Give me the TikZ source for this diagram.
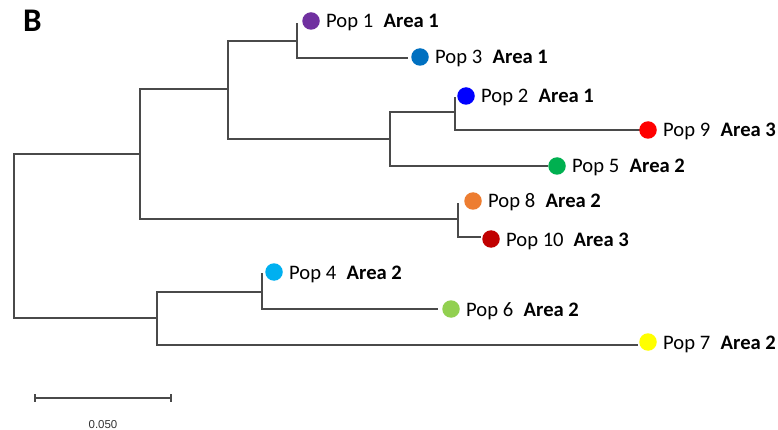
\documentclass[tikz,border=0pt]{standalone}
\usepackage{fontspec}
\setmainfont{Carlito}
\newfontfamily\arialf{Liberation Sans}
\definecolor{br}{HTML}{4A4A4A}
\definecolor{c1}{HTML}{7030A0}
\definecolor{c2}{HTML}{0000FF}
\definecolor{c3}{HTML}{0070C0}
\definecolor{c4}{HTML}{00B0F0}
\definecolor{c5}{HTML}{00B050}
\definecolor{c6}{HTML}{92D050}
\definecolor{c7}{HTML}{FFFF00}
\definecolor{c8}{HTML}{ED7D31}
\definecolor{c9}{HTML}{FF0000}
\definecolor{c10}{HTML}{C00000}
\begin{document}
\begin{tikzpicture}[x=1pt,y=-1pt,
  branch/.style={draw=br,line width=1.2pt},
  dot/.style={circle,inner sep=0pt,minimum size=17.5pt},
  lab/.style={anchor=base west,inner sep=0pt,font=\fontsize{20.6}{22}\selectfont,xshift=15pt,yshift=-7pt}]
\useasboundingbox (0,0) rectangle (778,430);
\node[anchor=base west,inner sep=0pt,font=\fontsize{33}{36}\selectfont\bfseries] (title) at (23,32) {B};
% internal nodes
\coordinate (root) at (14,236);
\coordinate (A) at (140,154);
\coordinate (G) at (157,318);
\coordinate (B) at (228,89);
\coordinate (F) at (458,219);
\coordinate (C) at (297,41);
\coordinate (D) at (390,139);
\coordinate (E) at (455,112);
\coordinate (H) at (262,292);
% leaves
\coordinate (L1) at (297,23);
\coordinate (L3) at (408,58);
\coordinate (L2) at (455,97);
\coordinate (L9) at (640,130);
\coordinate (L5) at (548,166);
\coordinate (L8) at (458,203);
\coordinate (L10) at (481,237);
\coordinate (L4) at (262,273);
\coordinate (L6) at (438,309);
\coordinate (L7) at (638,345);
% branches
\draw[branch] (root) |- (A);
\draw[branch] (root) |- (G);
\draw[branch] (A) |- (B);
\draw[branch] (A) |- (F);
\draw[branch] (B) |- (C);
\draw[branch] (B) |- (D);
\draw[branch] (C) |- (L1);
\draw[branch] (C) |- (L3);
\draw[branch] (D) |- (E);
\draw[branch] (D) |- (L5);
\draw[branch] (E) |- (L2);
\draw[branch] (E) |- (L9);
\draw[branch] (F) |- (L8);
\draw[branch] (F) |- (L10);
\draw[branch] (G) |- (H);
\draw[branch] (G) |- (L7);
\draw[branch] (H) |- (L4);
\draw[branch] (H) |- (L6);
% dots
\node[dot,fill=c1] (d1) at (311,21) {};
\node[dot,fill=c3] (d3) at (420,57) {};
\node[dot,fill=c2] (d2) at (466,96) {};
\node[dot,fill=c9] (d9) at (648,130) {};
\node[dot,fill=c5] (d5) at (557,166) {};
\node[dot,fill=c8] (d8) at (473,201) {};
\node[dot,fill=c10] (d10) at (491,239) {};
\node[dot,fill=c4] (d4) at (274,272) {};
\node[dot,fill=c6] (d6) at (451,309) {};
\node[dot,fill=c7] (d7) at (648,342) {};
% labels
\node[lab] (t1) at (d1.center) {Pop 1\hspace{10.5pt}\textbf{Area 1}};
\node[lab] (t3) at (d3.center) {Pop 3\hspace{10.5pt}\textbf{Area 1}};
\node[lab] (t2) at (d2.center) {Pop 2\hspace{10.5pt}\textbf{Area 1}};
\node[lab] (t9) at (d9.center) {Pop 9\hspace{10.5pt}\textbf{Area 3}};
\node[lab] (t5) at (d5.center) {Pop 5\hspace{10.5pt}\textbf{Area 2}};
\node[lab] (t8) at (d8.center) {Pop 8\hspace{10.5pt}\textbf{Area 2}};
\node[lab] (t10) at (d10.center) {Pop 10\hspace{10pt}\textbf{Area 3}};
\node[lab] (t4) at (d4.center) {Pop 4\hspace{10.5pt}\textbf{Area 2}};
\node[lab] (t6) at (d6.center) {Pop 6\hspace{10.5pt}\textbf{Area 2}};
\node[lab] (t7) at (d7.center) {Pop 7\hspace{10.5pt}\textbf{Area 2}};
% scale bar
\coordinate (s0) at (35,398);
\coordinate (s1) at (171,398);
\draw[branch] (s0) -- (s1);
\draw[branch] ([yshift=4pt]s0) -- ([yshift=-4pt]s0);
\draw[branch] ([yshift=4pt]s1) -- ([yshift=-4pt]s1);
\node[anchor=base,inner sep=0pt,font=\arialf\fontsize{11.5}{13}\selectfont,text=black!80] (scale) at (103,428) {0.050};
\end{tikzpicture}
\end{document}
